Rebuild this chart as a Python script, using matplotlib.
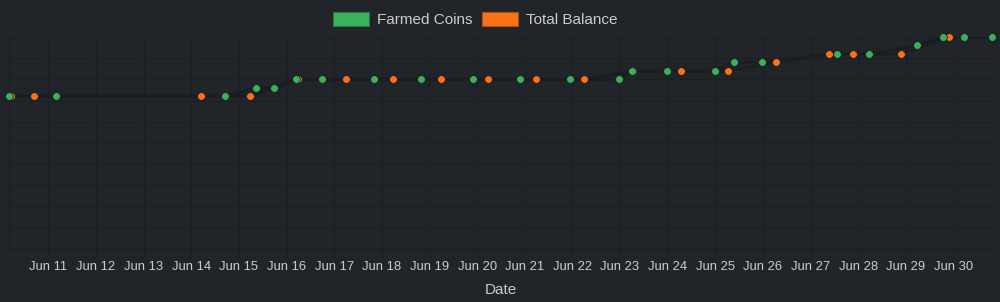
import pandas as pd
import matplotlib.pyplot as plt
import matplotlib.dates as mdates
from matplotlib.patches import Patch

# Data (y axis labels are hidden, so units are relative)
farmed_times = [
    "2024-06-10 04:11", "2024-06-11 04:03", "2024-06-14 16:59", "2024-06-15 08:47",
    "2024-06-15 17:52", "2024-06-16 04:58", "2024-06-16 17:43", "2024-06-17 19:48",
    "2024-06-18 19:39", "2024-06-19 21:44", "2024-06-20 21:47", "2024-06-21 22:40",
    "2024-06-22 23:32", "2024-06-23 05:47", "2024-06-23 23:35", "2024-06-24 23:39",
    "2024-06-25 09:32", "2024-06-25 23:30", "2024-06-27 13:29", "2024-06-28 05:29",
    "2024-06-29 05:32", "2024-06-29 18:27", "2024-06-30 05:24", "2024-06-30 19:22",
]
farmed_values = [180, 180, 180, 190, 190, 200, 200, 200, 200, 200, 200, 200,
                 200, 210, 210, 210, 220, 220, 230, 230, 240, 250, 250, 250]

balance_times = [
    "2024-06-10 05:02", "2024-06-10 16:57", "2024-06-14 04:53", "2024-06-15 05:45",
    "2024-06-16 05:58", "2024-06-17 05:49", "2024-06-18 05:44", "2024-06-19 05:44",
    "2024-06-20 05:39", "2024-06-21 05:40", "2024-06-22 05:43", "2024-06-23 06:35",
    "2024-06-24 06:39", "2024-06-25 06:31", "2024-06-26 06:34", "2024-06-27 09:09",
    "2024-06-27 21:24", "2024-06-28 21:28", "2024-06-29 21:28",
]
balance_values = [180, 180, 180, 180, 200, 200, 200, 200, 200, 200, 200,
                  210, 210, 210, 220, 230, 230, 230, 250]

tick_days = pd.date_range("2024-06-11", "2024-06-30", freq="D")

farmed_t = pd.to_datetime(farmed_times)
balance_t = pd.to_datetime(balance_times)

bg = '#212428'
grid = '#1d2023'      # black at 10% over the background
line_c = '#1b1d21'
text_color = '#cccccc'
green = '#3cb15b'
orange = '#f97316'

plt.rcParams['font.family'] = ['Liberation Sans', 'DejaVu Sans']

fig = plt.figure(figsize=(10, 3.02), dpi=100, facecolor=bg)
ax = fig.add_axes([9 / 1000, 1 - 249 / 302, 983 / 1000, 212 / 302])
ax.set_facecolor(bg)

# faint connecting lines + points (orange under green)
ax.plot(balance_t, balance_values, color=line_c, lw=2.2, zorder=2)
ax.plot(farmed_t, farmed_values, color=line_c, lw=2.2, zorder=2)
ax.plot(balance_t, balance_values, ls='none', marker='o', ms=5.6, mfc=orange,
        mec='#1e2024', mew=0.6, zorder=3, clip_on=False)
ax.plot(farmed_t, farmed_values, ls='none', marker='o', ms=5.6, mfc=green,
        mec='#1e2024', mew=0.6, zorder=4, clip_on=False)

ax.set_xlim(min(farmed_t.min(), balance_t.min()), max(farmed_t.max(), balance_t.max()))
ax.set_ylim(0, 250)
ax.set_yticks(range(0, 251, 25))
ax.set_xticks(tick_days)
ax.xaxis.set_major_formatter(mdates.DateFormatter('%b %d'))
ax.set_xticklabels([d.strftime('%b ') + str(d.day) for d in tick_days])
ax.tick_params(axis='y', length=6, color=grid, width=0.8, labelleft=False)
ax.tick_params(axis='x', length=5, color=grid, width=0.8, labelsize=9.4,
               labelcolor=text_color, pad=4)
ax.grid(True, color=grid, lw=0.8, alpha=1)
ax.set_axisbelow(True)
for side in ['top', 'right']:
    ax.spines[side].set_visible(False)
for side in ['left', 'bottom']:
    ax.spines[side].set_color(grid)
    ax.spines[side].set_linewidth(0.8)

ax.set_xlabel('Date', color=text_color, fontsize=11, labelpad=7)

handles = [Patch(facecolor=green, edgecolor='#2a7a40', lw=0.8, label='Farmed Coins'),
           Patch(facecolor=orange, edgecolor='#a85016', lw=0.8, label='Total Balance')]
leg = fig.legend(handles=handles, loc='center', bbox_to_anchor=(475 / 1000, 1 - 19.5 / 302),
                 ncol=2, frameon=False, fontsize=11, handlelength=2.4, handleheight=1.0,
                 handletextpad=0.5, columnspacing=0.6, borderpad=0, labelcolor=text_color)

fig.savefig('out.png', dpi=100, facecolor=bg)
